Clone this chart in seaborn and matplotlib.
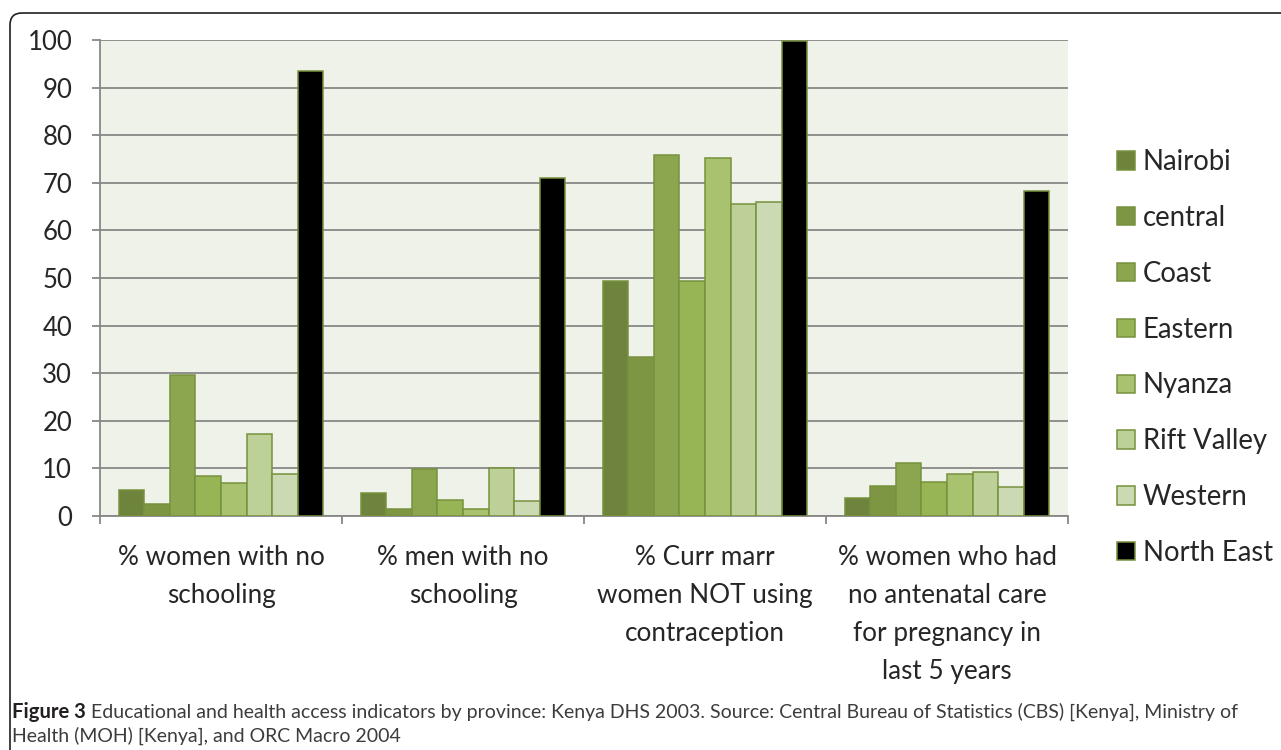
import matplotlib
matplotlib.use("Agg")
import matplotlib.pyplot as plt
import seaborn as sns
import pandas as pd
from matplotlib.patches import FancyBboxPatch
from matplotlib.transforms import IdentityTransform
from matplotlib.ticker import FixedLocator

categories = ["% women with no\nschooling", "% men with no\nschooling",
              "% Curr marr\nwomen NOT using\ncontraception",
              "% women who had\nno antenatal care\nfor pregnancy in\nlast 5 years"]
provinces = ["Nairobi", "central", "Coast", "Eastern", "Nyanza", "Rift Valley", "Western", "North East"]
nairobi = [5.5, 4.8, 49.3, 3.7]
central = [2.6, 1.4, 33.5, 6.2]
coast = [29.6, 9.8, 75.9, 11.2]
eastern = [8.3, 3.3, 49.3, 7.2]
nyanza = [6.9, 1.5, 75.3, 8.9]
rift_valley = [17.2, 10.1, 65.6, 9.3]
western = [8.9, 3.2, 65.9, 6.0]
north_east = [93.4, 71.0, 99.8, 68.2]
series = [nairobi, central, coast, eastern, nyanza, rift_valley, western, north_east]
colors = ["#6e843c", "#7e9643", "#8ba64e", "#98b556", "#a8c270", "#bcd098", "#ccdab3", "#000000"]
caption_bold = "Figure 3"
caption_rest_1 = " Educational and health access indicators by province: Kenya DHS 2003. Source: Central Bureau of Statistics (CBS) [Kenya], Ministry of"
caption_rest_2 = "Health (MOH) [Kenya], and ORC Macro 2004"

rows = []
for prov, vals in zip(provinces, series):
    for cat, v in zip(categories, vals):
        rows.append({"category": cat, "province": prov, "value": v})
df = pd.DataFrame(rows)

sns.set_style("white")
plt.rcParams["font.family"] = ["Lato", "DejaVu Sans"]

W, H = 1281, 750
fig = plt.figure(figsize=(W / 100, H / 100), dpi=100)
ax = fig.add_axes([100 / W, 1 - 516 / H, 968 / W, 476 / H])
ax.set_facecolor("#eff2e8")

sns.barplot(data=df, x="category", y="value", hue="province", order=categories,
            hue_order=provinces, palette=colors, width=0.845, edgecolor="#76923c",
            linewidth=1.1, saturation=1, ax=ax, zorder=3)

ax.set_ylim(0, 100)
ax.set_xlim(-0.5, 3.5)
ax.set_yticks(range(0, 101, 10))
ax.yaxis.grid(True, color="#878787", linewidth=1.3, zorder=0)
ax.set_axisbelow(True)
for s in ["top", "right"]:
    ax.spines[s].set_visible(False)
for s in ["left", "bottom"]:
    ax.spines[s].set_color("#878787")
    ax.spines[s].set_linewidth(1.3)
ax.set_xlabel("")
ax.set_ylabel("")
ax.tick_params(axis="y", length=6, width=1.3, color="#878787", pad=14, labelsize=18.5, left=True)
ax.tick_params(axis="x", which="major", length=0, pad=21, labelsize=18.8)
ax.xaxis.set_minor_locator(FixedLocator([-0.5, 0.5, 1.5, 2.5, 3.5]))
ax.tick_params(axis="x", which="minor", length=6, width=1.3, color="#878787", bottom=True)
for lbl in ax.get_xticklabels():
    lbl.set_linespacing(1.65)

handles, labels = ax.get_legend_handles_labels()
ax.get_legend().remove()
fig.legend(handles, labels, loc="center left", bbox_to_anchor=(1092 / W, 1 - 357.5 / H),
           frameon=False, fontsize=19.8, handlelength=0.65, handleheight=0.65,
           handletextpad=0.3, labelspacing=1.085)

# frame
frame = FancyBboxPatch((10, -60), 1400, H - 13 + 60, boxstyle="round,pad=0,rounding_size=12",
                       transform=IdentityTransform(), fill=False, ec="#231f20", lw=1.2)
fig.add_artist(frame)

# caption
cap_size = 14.0
t1 = fig.text(12 / W, 1 - 718 / H, caption_bold, fontsize=cap_size + 0.6, fontweight="bold",
              color="#231f20", va="baseline", ha="left")
fig.canvas.draw()
r = fig.canvas.get_renderer()
bb = t1.get_window_extent(r)
fig.text(bb.x1 / W, 1 - 718 / H, caption_rest_1, fontsize=cap_size, color="#3c3c3c",
         va="baseline", ha="left")
fig.text(12 / W, 1 - 742 / H, caption_rest_2, fontsize=cap_size, color="#3c3c3c",
         va="baseline", ha="left")

fig.savefig("out.png", dpi=100)
